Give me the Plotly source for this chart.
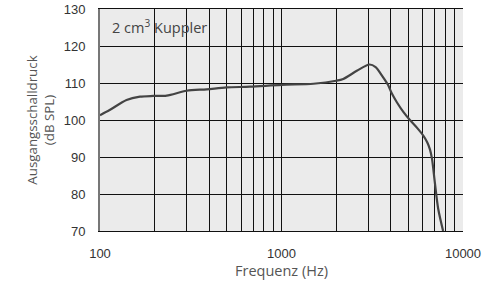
import plotly.graph_objects as go

freq_hz = [100, 113, 140, 166, 197, 233, 300, 387, 498, 670, 1000, 1500, 2000, 2190, 2600, 3050, 3300, 3600, 3860, 4050, 4320, 4690, 5100, 5600, 6040, 6350, 6580, 6750, 7000, 7300, 7770]
spl_db = [101.3, 102.7, 105.4, 106.3, 106.5, 106.6, 107.9, 108.3, 108.8, 109.0, 109.5, 109.8, 110.6, 111.1, 113.3, 115.0, 114.3, 111.8, 109.5, 107.2, 104.8, 102.2, 100.0, 97.8, 95.8, 94.0, 92.0, 89.5, 83.0, 76.0, 70.0]

x_major = [100, 1000, 10000]
x_labels = ["100", "1000", "10000"]
x_minor = [200, 300, 400, 500, 600, 700, 800, 900, 2000, 3000, 4000, 5000, 6000, 7000, 8000, 9000]
y_ticks = [70, 80, 90, 100, 110, 120, 130]

tick_font = "Liberation Sans, Arial, sans-serif"
title_font = "Open Sans, Noto Sans, sans-serif"

fig = go.Figure()
fig.add_trace(go.Scatter(
    x=freq_hz, y=spl_db, mode="lines",
    line=dict(color="#444444", width=2.2, shape="spline", smoothing=0.8),
    hoverinfo="skip", showlegend=False,
))

fig.update_layout(
    width=485, height=286,
    margin=dict(l=100, r=22, t=9, b=55),
    paper_bgcolor="white", plot_bgcolor="#ebebeb",
    font=dict(family=tick_font, size=13, color="#333333"),
    xaxis=dict(
        type="log", range=[2, 4], automargin=False,
        tickmode="array", tickvals=x_major, ticktext=x_labels,
        tickfont=dict(family=tick_font, size=13, color="#333333"),
        showgrid=True, gridcolor="#111111", gridwidth=1,
        minor=dict(tickmode="array", tickvals=x_minor, showgrid=True, gridcolor="#111111", gridwidth=1, ticklen=0),
        ticks="", ticklabelstandoff=10,
        showline=True, linecolor="#111111", linewidth=1, mirror=True,
        zeroline=False,
        title=dict(text="Frequenz (Hz)", font=dict(family=title_font, size=14.5, color="#555555"), standoff=5),
    ),
    yaxis=dict(
        range=[70, 130], automargin=False,
        tickmode="array", tickvals=y_ticks,
        tickfont=dict(family=tick_font, size=13, color="#333333"),
        showgrid=True, gridcolor="#111111", gridwidth=1,
        ticks="", ticklabelstandoff=10,
        showline=True, linecolor="#777777", linewidth=2, mirror=False,
        zeroline=False,
        title=dict(text="Ausgangsschalldruck<br>(dB SPL)", font=dict(family=title_font, size=13.3, color="#555555"), standoff=6),
    ),
    annotations=[dict(
        text="2 cm<sup>3</sup> Kuppler", xref="paper", yref="paper",
        x=0.028, y=0.92, xanchor="left", yanchor="middle", showarrow=False,
        font=dict(size=14.5, color="#444444", family=title_font),
    )],
)

fig.write_html("out.html", config={"displayModeBar": False},
               post_script="document.body.style.margin='0';document.body.style.overflow='hidden';")
